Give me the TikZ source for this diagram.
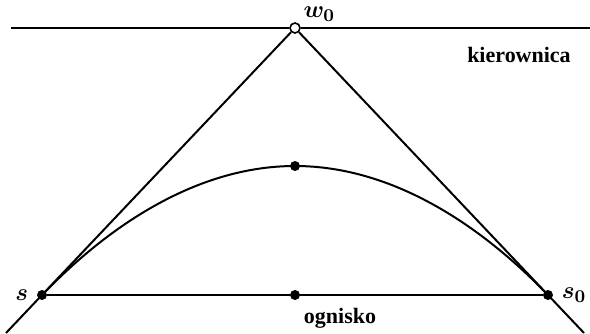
\documentclass[tikz,border=0pt]{standalone}
\usepackage{fontspec}
\setmainfont{Liberation Serif}
\usetikzlibrary{positioning}
\tikzset{
  dot/.style={
    circle,
    fill,
    inner sep=0pt,
    minimum size=5pt
  },
  hollow/.style={
    circle,
    draw,
    fill=white,
    line width=0.8pt,
    inner sep=0pt,
    minimum size=5pt
  },
  tag/.style={
    font=\fontsize{11}{13}\selectfont\bfseries
  },
  sym/.style={
    font=\fontsize{12.5}{15}\selectfont\boldmath,
    inner sep=1pt
  },
  curve/.style={line width=1pt}
}

\begin{document}
\begin{tikzpicture}[x=0.5pt, y=-0.5pt]
  \useasboundingbox (0,0) rectangle (590,333);

  \coordinate (dl) at (11,28);
  \coordinate (dr) at (590,28);
  \coordinate (el) at (6,333);
  \coordinate (er) at (584,333);

  \node[hollow] (w0) at (295,28) {};
  \node[dot] (s) at (42,295) {};
  \node[dot] (s0) at (548,295) {};
  \node[dot] (f) at (295,295) {};
  \node[dot] (v) at (295,166) {};

  \node[sym, above right=0pt and 1pt of w0] (lw0) {$w_0$};
  \node[sym, left=3pt of s] (ls) {$s$};
  \node[sym, right=3pt of s0] (ls0) {$s_0$};
  \node[tag] (kier) at (519,55) {kierownica};
  \node[tag] (ogn) at (340,318) {ognisko};

  \draw[curve] (dl) -- (w0) -- (dr);
  \draw[curve] (w0) -- (el);
  \draw[curve] (w0) -- (er);
  \draw[curve] (s) -- (f) -- (s0);
  \draw[curve] (s.center) parabola bend (v.center) (s0.center);
\end{tikzpicture}
\end{document}
